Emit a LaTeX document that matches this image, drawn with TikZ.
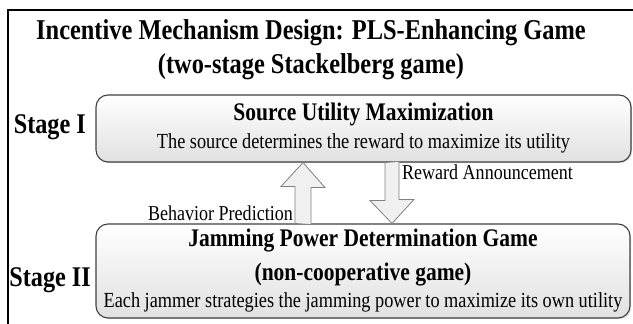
\documentclass[tikz,border=0pt]{standalone}
\usepackage{fontspec}
\setmainfont{Liberation Serif}[FakeStretch=0.85]
\usetikzlibrary{calc,shadows}
\begin{document}
\begin{tikzpicture}[x=1pt,y=1pt,
  stagebox/.style={draw=black!75,line width=1.1pt,rounded corners=12pt,top color=white,bottom color=black!12,
    drop shadow={shadow xshift=1.2pt,shadow yshift=-1.2pt,opacity=0.25},
    align=center,inner sep=0pt,minimum width=535pt,font=\fontsize{21.5}{28}\selectfont},
  blockarrow/.style={draw=black!50,line width=0.8pt,fill=black!6},
  lbl/.style={font=\fontsize{21.2}{22}\selectfont,inner sep=1pt},
  stagelbl/.style={font=\bfseries\fontsize{28.5}{30}\selectfont,inner sep=0pt}]
\useasboundingbox (0,0) rectangle (633,324);
\draw[line width=1.3pt] (8,-2) -- (8,314) -- (640,314);
\node[font=\bfseries\fontsize{28.7}{34}\selectfont,align=center] (title) at (311,274) {Incentive Mechanism Design: PLS-Enhancing Game\\(two-stage Stackelberg game)};
\node[stagelbl,anchor=east] (s1) at (86,197) {Stage I};
\node[stagelbl,anchor=east] (s2) at (91,44) {Stage II};
% the two stages
\node[stagebox,minimum height=67pt] (src) at (363.5,195.5) {{\bfseries\fontsize{25.3}{28}\selectfont Source Utility Maximization}\\The source determines the reward to maximize its utility};
\node[stagebox,minimum width=534pt,minimum height=94pt,font=\fontsize{21.5}{27}\selectfont] (jam) at (363,53) {{\bfseries\fontsize{25.3}{27}\selectfont Jamming Power Determination Game}\\[7pt]{\bfseries\fontsize{25.3}{27}\selectfont (non-cooperative game)}\\Each jammer strategies the jamming power to maximize its own utility};
% block arrows between the stages
\coordinate (upx) at (303,0);
\coordinate (dnx) at (392,0);
\draw[blockarrow] ($(jam.north -| upx)+(-8,0)$) -- ++(0,37) -- ++(-14,0) -- (src.south -| upx) -- ++(22,-25) -- ++(-14,0) -- ++(0,-37) -- cycle;
\draw[blockarrow] ($(src.south -| dnx)+(-7,0)$) -- ++(0,-38) -- ++(-15,0) -- (jam.north -| dnx) -- ++(22,24) -- ++(-15,0) -- ++(0,38) -- cycle;
\node[lbl,anchor=east] (bp) at (294,111) {Behavior Prediction};
\node[lbl,anchor=west] (ra) at (401,152) {Reward Announcement};
\end{tikzpicture}
\end{document}
